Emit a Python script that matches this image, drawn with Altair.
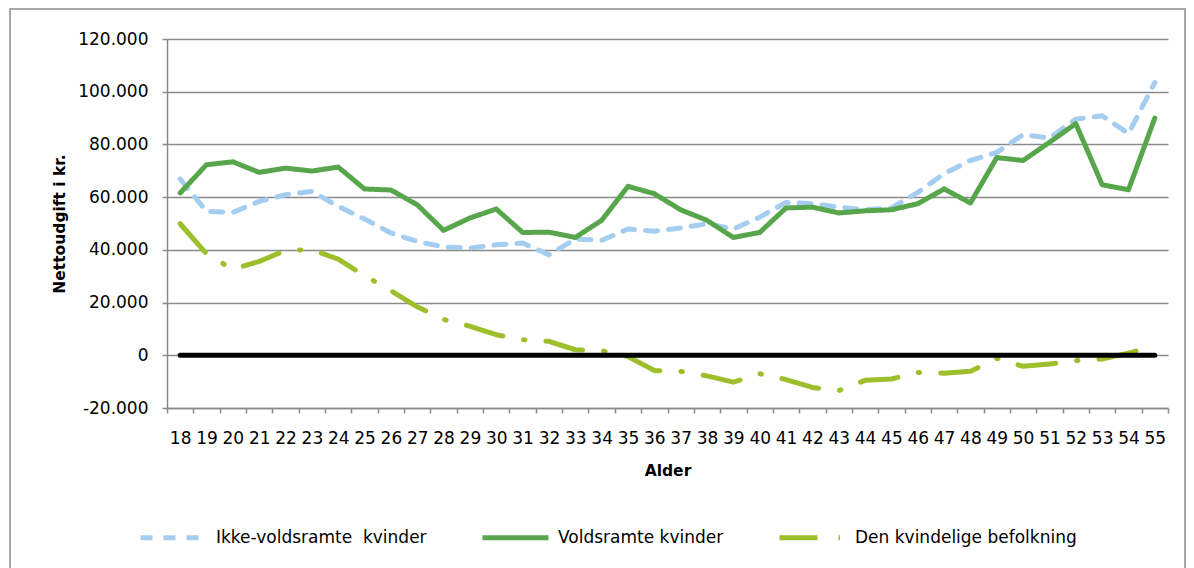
import altair as alt
import pandas as pd

# ---------------- data ----------------
ages = list(range(18, 56))

ikke_voldsramte = [66.9, 54.6, 54.2, 58.4, 60.9, 62.2, 56.5, 51.7, 46.4, 43.2,
                   41.1, 40.7, 41.9, 42.6, 38.1, 44.1, 43.6, 47.9, 47.1, 48.3,
                   49.9, 47.9, 52.4, 58.0, 57.5, 56.2, 55.2, 55.9, 61.8, 68.9,
                   73.9, 77.0, 83.7, 82.4, 89.6, 90.9, 84.1, 103.5]

voldsramte = [61.6, 72.3, 73.4, 69.4, 71.0, 69.9, 71.4, 63.1, 62.7, 57.1,
              47.4, 52.1, 55.5, 46.6, 46.7, 44.7, 51.2, 64.1, 61.3, 55.2,
              51.2, 44.7, 46.6, 55.9, 56.2, 54.0, 54.8, 55.2, 57.5, 63.1,
              57.8, 75.0, 73.9, 80.8, 87.9, 64.7, 62.8, 90.0]

befolkning = [49.9, 38.5, 32.6, 35.6, 39.8, 40.0, 36.5, 30.2, 24.5, 18.4,
              13.6, 11.0, 7.8, 5.9, 5.3, 2.1, 1.8, -0.5, -5.8, -6.1,
              -7.8, -10.2, -7.0, -9.2, -12.2, -13.4, -9.5, -9.0, -6.5, -6.8,
              -6.1, -1.1, -4.2, -3.3, -2.0, -1.4, 0.8, 3.6]

series_names = ["Ikke-voldsramte\u00a0 kvinder", "Voldsramte kvinder",
                "Den kvindelige befolkning"]
series_values = [ikke_voldsramte, voldsramte, befolkning]
unit = 1000

y_ticks = [-20000, 0, 20000, 40000, 60000, 80000, 100000, 120000]
zero_level = [0]

# ---------------- styles ----------------
colors = ["#A5CDF0", "#57A64C", "#9DBF2C"]
dashes = [[12, 11], [1, 0], [38, 21, 1.5, 21]]
FONT = "DejaVu Sans"
GRAY = "#8a8a8a"

rows = []
for name, vals in zip(series_names, series_values):
    for a, v in zip(ages, vals):
        rows.append({"age": a, "serie": name, "value": v * unit})
df = pd.DataFrame(rows)

edges = [a - 0.5 for a in ages] + [ages[-1] + 0.5]
half_step = 1001 / len(ages) / 2

x_scale = alt.Scale(domain=[edges[0], edges[-1]], nice=False, zero=False)
y_scale = alt.Scale(domain=[y_ticks[0], y_ticks[-1]], nice=False, zero=False)

x_axis = alt.Axis(
    values=edges,
    labelExpr=f"datum.value < {ages[-1]} ? format(datum.value + 0.5, 'd') : ''",
    labelOffset=half_step, labelFlush=False, labelOverlap=False,
    labelSeparation=0, labelBound=False,
    labelFont=FONT, labelFontSize=17, labelColor="black", labelPadding=17,
    tickSize=5, tickColor=GRAY, tickWidth=1.5,
    domainColor=GRAY, domainWidth=1.5, grid=False,
    title="Alder", titleFont=FONT, titleFontSize=15.5, titleFontWeight="bold",
    titleColor="black", titlePadding=17,
)
y_axis = alt.Axis(
    values=y_ticks,
    labelExpr="(datum.value < 0 ? '-' : '') + replace(format(abs(datum.value), ','), ',', '.')",
    labelFont=FONT, labelFontSize=17, labelColor="black", labelPadding=14,
    labelOverlap=False,
    tickSize=5, tickColor=GRAY, tickWidth=1.5,
    domainColor=GRAY, domainWidth=1.5,
    grid=True, gridColor=GRAY, gridWidth=1.5,
    title="Nettoudgift i kr.", titleFont=FONT, titleFontSize=15.5,
    titleFontWeight="bold", titleColor="black", titlePadding=10,
)

legend = alt.Legend(
    title=None, orient="none", legendX=-29, legendY=463,
    direction="horizontal", columns=3,
    symbolType="stroke", symbolSize=4356, symbolStrokeWidth=5,
    labelFont=FONT, labelFontSize=17, labelColor="black",
    labelOffset=7, columnPadding=45, padding=0, labelLimit=400,
)

color_enc = alt.Color("serie:N", scale=alt.Scale(domain=series_names, range=colors),
                      legend=legend)
dash_enc = alt.StrokeDash("serie:N", scale=alt.Scale(domain=series_names, range=dashes),
                          legend=legend)

base = alt.Chart(df).encode(
    x=alt.X("age:Q", scale=x_scale, axis=x_axis, title="Alder"),
    y=alt.Y("value:Q", scale=y_scale, axis=y_axis, title="Nettoudgift i kr."),
    color=color_enc,
    strokeDash=dash_enc,
)

line_layers = [
    base.transform_filter(alt.datum.serie == name).mark_line(
        strokeWidth=5, strokeCap="round", strokeJoin="round")
    for name in [series_names[2], series_names[0], series_names[1]]
]

zero_df = pd.DataFrame({"x": [ages[0]], "x2": [ages[-1]], "y": zero_level})
zero_line = alt.Chart(zero_df).mark_rule(
    color="black", strokeWidth=5, strokeCap="round").encode(
    x=alt.X("x:Q", scale=x_scale, axis=x_axis, title="Alder"),
    x2="x2:Q",
    y=alt.Y("y:Q", scale=y_scale, axis=y_axis, title="Nettoudgift i kr."),
)

border = alt.Chart(pd.DataFrame({"k": [0]})).mark_rect(
    filled=False, stroke="#8c8c8c", strokeWidth=1.5).encode(
    x=alt.value(-157), x2=alt.value(1018), y=alt.value(-30), y2=alt.value(545))

chart = alt.layer(border, *line_layers, zero_line).properties(
    width=1001, height=369,
    autosize=alt.AutoSizeParams(type="none"),
    padding={"left": 159, "top": 31, "right": 18, "bottom": 160},
    background="white",
).configure_view(strokeWidth=0).configure_axis(labelOverlap=False)

chart.save("out.html", embed_options={"renderer": "svg", "actions": False})
